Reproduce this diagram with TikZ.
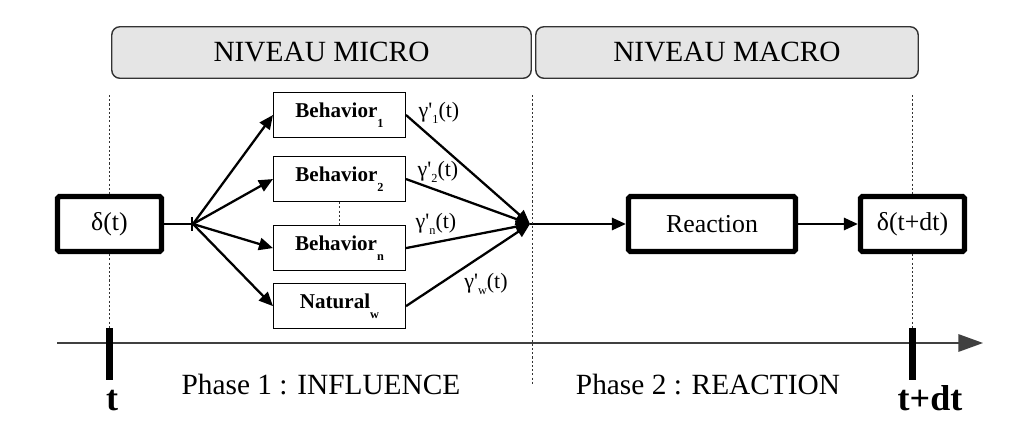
\documentclass[tikz,border=0pt]{standalone}
\usepackage{fontspec}
\setmainfont{Liberation Serif}
\newfontfamily\plainserif{Liberation Serif}
\usetikzlibrary{arrows.meta, positioning}

\newcommand{\lowidx}[2][1ex]{\raisebox{-#1}{\fontsize{7}{7}\selectfont #2}}

\begin{document}
\begin{tikzpicture}[
    x=0.02cm, y=-0.02cm,
    >={Triangle[length=8pt, width=7pt]},
    level/.style={rectangle, draw=black!80, fill=gray!20, line width=0.8pt, rounded corners=0.16cm, minimum height=1.03cm, font=\fontsize{16.7}{20}\selectfont},
    state/.style={rectangle, draw=black, line width=3pt, rounded corners=1pt, minimum width=2.08cm, minimum height=1.1cm, fill=white, font=\fontsize{14.7}{18}\selectfont},
    behav/.style={rectangle, draw=black, line width=0.6pt, minimum width=2.64cm, minimum height=0.9cm, font=\bfseries\fontsize{12}{14}\selectfont},
    flow/.style={->, line width=1.3pt},
    guide/.style={black!80, line width=0.5pt, dash pattern=on 1.2pt off 1.2pt},
    tickmark/.style={rectangle, fill=black, inner sep=0pt, minimum width=0.14cm, minimum height=1.04cm},
    rate/.style={font=\plainserif\fontsize{12.5}{14}\selectfont},
    phase/.style={font=\fontsize{16.7}{20}\selectfont, anchor=base},
    instant/.style={font=\bfseries\fontsize{20.5}{24}\selectfont, anchor=base},
]
\useasboundingbox (0,0) rectangle (1012,440);

% --- Levels ---
\node[level, minimum width=8.39cm] (micro) at (321.5,52.5) {NIVEAU MICRO};
\node[level, minimum width=7.65cm] (macro) at (727,52.5) {NIVEAU MACRO};

% --- States ---
\node[state] (dt0) at (109.5,224) {δ(t)};
\node[state, minimum width=3.34cm] (react) at (712,224) {Reaction};
\node[state] (dt1) at (912.5,224) {δ(t+dt)};

% --- Behaviors ---
\node[behav] (b1) at (339.5,115) {Behavior\lowidx{1}};
\node[behav, below=0.36cm of b1] (b2) {Behavior\lowidx{2}};
\node[behav, below=0.46cm of b2] (bn) {Behavior\lowidx{n}};
\node[behav, below=0.24cm of bn] (nw) {Natural\lowidx{w}};

% --- Split / merge points ---
\coordinate (split) at (193,224);
\coordinate (merge) at (530,224);

% --- Arrows ---
\draw[line width=1.3pt, -{Bar[width=7.5pt]}] (dt0.east) -- (split);
\foreach \b in {b1,b2,bn,nw}
    \draw[flow] (split) -- (\b.west);
\foreach \b in {b1,b2,bn,nw}
    \draw[flow] (\b.east) -- (merge);
\draw[flow] (merge) -- (react.west);
\draw[flow] (react.east) -- (dt1.west);
\draw[guide] (b2.south) -- (bn.north);

% --- Rates ---
\node[rate] (g1) at (439,113) {γ'\lowidx[0.6ex]{1}(t)};
\node[rate] (g2) at (438,172) {γ'\lowidx[0.6ex]{2}(t)};
\node[rate] (gn) at (436,224) {γ'\lowidx[0.6ex]{n}(t)};
\node[rate] (gw) at (486,284) {γ'\lowidx[0.6ex]{w}(t)};

% --- Time axis ---
\coordinate (ax0) at (57,343);
\coordinate (ax1) at (983,343);
\draw[line width=0.7pt, black!75, -{Triangle[length=14pt, width=10pt]}] (ax0) -- (ax1);
\node[tickmark] (tk0) at (109.5,354) {};
\node[tickmark] (tk1) at (912.5,354) {};
\node[instant] (lt0) at (112,410) {t};
\node[instant] (lt1) at (930,410) {t+dt};

% --- Guides ---
\coordinate (top0) at (109.5,95);
\coordinate (top1) at (532,95);
\coordinate (bot1) at (532,385);
\coordinate (top2) at (912.5,95);
\draw[guide] (top0) -- (dt0.north);
\draw[guide] (dt0.south) -- (tk0.north);
\draw[guide] (top1) -- (bot1);
\draw[guide] (top2) -- (dt1.north);
\draw[guide] (dt1.south) -- (tk1.north);

% --- Phases ---
\node[phase] (ph1) at (321,394) {Phase 1 : INFLUENCE};
\node[phase] (ph2) at (708,394) {Phase 2 : REACTION};

\end{tikzpicture}
\end{document}
